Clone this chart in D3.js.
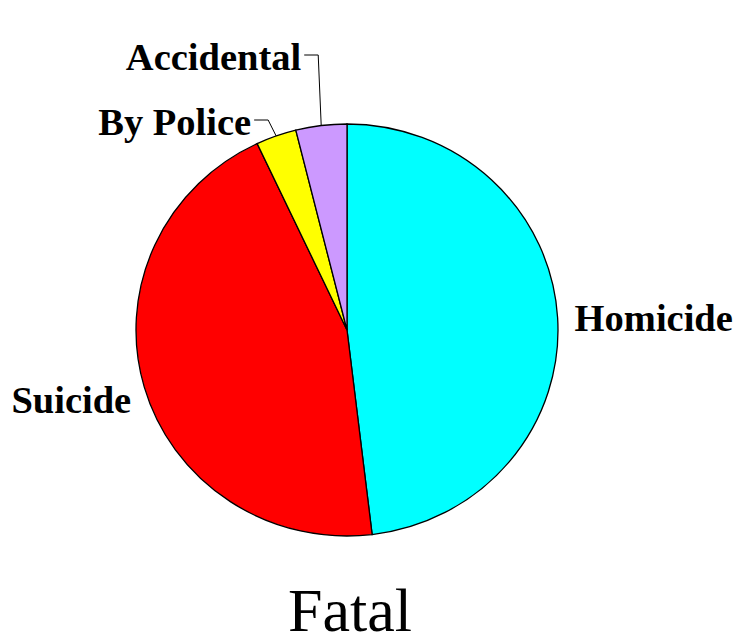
<!DOCTYPE html>
<html>
<head>
<meta charset="utf-8">
<script src="https://cdn.jsdelivr.net/npm/d3@7"></script>
<style>
  body { margin: 0; background: #fff; }
  svg { display: block; }
</style>
</head>
<body>
<svg id="chart" width="737" height="641"></svg>
<script>
// data
var categories = ["Homicide", "Suicide", "By Police", "Accidental"];
var values = [48.1, 44.9, 3.1, 3.9];
var colors = ["#00FFFF", "#FF0000", "#FFFF00", "#CC99FF"];
var title = "Fatal";

var svg = d3.select("#chart");
var cx = 347, cy = 330, rx = 211, ry = 206;

var pie = d3.pie().sort(null).value(function(d){ return d; });
var arcs = pie(values);
var arc = d3.arc().innerRadius(0).outerRadius(rx);

var g = svg.append("g")
  .attr("transform", "translate(" + cx + "," + cy + ") scale(1," + (ry / rx) + ")");

g.selectAll("path")
  .data(arcs)
  .enter()
  .append("path")
  .attr("d", arc)
  .attr("fill", function(d, i){ return colors[i]; })
  .attr("stroke", "#000")
  .attr("stroke-width", 1.3)
  .attr("vector-effect", "non-scaling-stroke");

// point on the ellipse edge at angle a (clockwise from 12 o'clock)
function edge(a){
  return [cx + rx * Math.sin(a), cy - ry * Math.cos(a)];
}

var font = "'Liberation Serif', 'Times New Roman', serif";
var labelSize = 38.5;

arcs.forEach(function(d, i){
  var mid = (d.startAngle + d.endAngle) / 2;
  var p = edge(mid);
  var small = (d.endAngle - d.startAngle) < 0.3;
  if (small) {
    // leader line up to the label
    var ly = i == 2 ? 120 : 55;
    var elbowX = p[0] - (i == 2 ? 8 : 3);
    var endX = elbowX - 14;
    svg.append("polyline")
      .attr("points", [p, [elbowX, ly], [endX, ly]].map(function(q){ return q.join(","); }).join(" "))
      .attr("fill", "none")
      .attr("stroke", "#000")
      .attr("stroke-width", 1);
    svg.append("text")
      .attr("x", endX - 3)
      .attr("y", ly + 15)
      .attr("text-anchor", "end")
      .attr("font-family", font)
      .attr("font-weight", "bold")
      .attr("font-size", labelSize)
      .text(categories[i]);
  } else {
    var right = Math.sin(mid) > 0;
    svg.append("text")
      .attr("x", right ? p[0] + 17 : p[0] - 13)
      .attr("y", right ? p[1] + 13 : p[1] + 26)
      .attr("text-anchor", right ? "start" : "end")
      .attr("font-family", font)
      .attr("font-weight", "bold")
      .attr("font-size", labelSize)
      .text(categories[i]);
  }
});

svg.append("text")
  .attr("x", 350)
  .attr("y", 631)
  .attr("text-anchor", "middle")
  .attr("font-family", font)
  .attr("font-size", 62)
  .text(title);
</script>
</body>
</html>
